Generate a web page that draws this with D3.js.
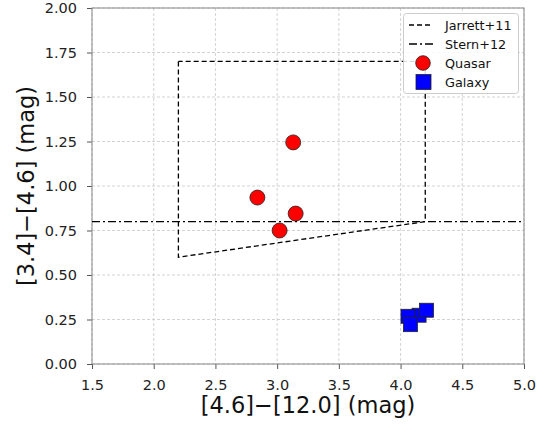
<!DOCTYPE html>
<html><head><meta charset="utf-8">
<script src="https://cdn.jsdelivr.net/npm/d3@7"></script>
<style>body{margin:0;background:#fff;} text{font-family:"DejaVu Sans",sans-serif;}</style>
</head><body><svg id="c" width="552" height="425"></svg>
<script>
const xTicks = [1.5, 2.0, 2.5, 3.0, 3.5, 4.0, 4.5, 5.0];
const yTicks = [0, 0.25, 0.5, 0.75, 1.0, 1.25, 1.5, 1.75, 2.0];
const quasarX = [3.13, 2.84, 3.15, 3.02];
const quasarY = [1.245, 0.935, 0.845, 0.75];
const galaxyX = [4.15, 4.21, 4.06, 4.08];
const galaxyY = [0.274, 0.302, 0.268, 0.221];
const jarrettX = [2.2, 2.2, 4.2, 4.2, 2.2];
const jarrettY = [1.7, 0.6, 0.8, 1.7, 1.7];
const sternY = 0.8;
const legendLabels = ["Jarrett+11", "Stern+12", "Quasar", "Galaxy"];

const svg = d3.select("#c");
const L = 92, R = 524, T = 8, B = 364;
const x = d3.scaleLinear().domain([1.5, 5.0]).range([L, R]);
const y = d3.scaleLinear().domain([0, 2]).range([B, T]);

// grid
const g = svg.append("g");
g.selectAll(".gx").data(xTicks).join("line").attr("x1", d => x(d)).attr("x2", d => x(d))
  .attr("y1", T).attr("y2", B).attr("stroke", "#c8c8c8").attr("stroke-width", 0.8).attr("stroke-dasharray", "3,2");
g.selectAll(".gy").data(yTicks).join("line").attr("y1", d => y(d)).attr("y2", d => y(d))
  .attr("x1", L).attr("x2", R).attr("stroke", "#c8c8c8").attr("stroke-width", 0.8).attr("stroke-dasharray", "3,2");

// axes
const xAxis = svg.append("g").attr("transform", `translate(0,${B})`)
  .call(d3.axisBottom(x).tickValues(xTicks).tickFormat(d3.format(".1f")).tickSizeOuter(0).tickSize(5).tickPadding(10.5));
const yAxis = svg.append("g").attr("transform", `translate(${L},0)`)
  .call(d3.axisLeft(y).tickValues(yTicks).tickFormat(d3.format(".2f")).tickSizeOuter(0).tickSize(5).tickPadding(10));
[xAxis, yAxis].forEach(a => {
  a.select(".domain").remove();
  a.selectAll("line").attr("stroke", "#555");
  a.selectAll("text").attr("font-size", 14.5).attr("fill", "#222").style("font-family", "DejaVu Sans");
});
// frame
svg.append("rect").attr("x", L).attr("y", T).attr("width", R - L).attr("height", B - T)
  .attr("fill", "none").attr("stroke", "#888").attr("stroke-width", 1);

// Jarrett
const line = d3.line().x(d => x(d[0])).y(d => y(d[1]));
svg.append("path").datum(jarrettX.map((v, i) => [v, jarrettY[i]])).attr("d", line)
  .attr("fill", "none").attr("stroke", "#000").attr("stroke-width", 1.3).attr("stroke-dasharray", "5,3");
// Stern
svg.append("line").attr("x1", x(1.5)).attr("x2", x(5.0)).attr("y1", y(sternY)).attr("y2", y(sternY))
  .attr("stroke", "#000").attr("stroke-width", 1.3).attr("stroke-dasharray", "8,3,2,3");

// quasars
svg.selectAll(".q").data(quasarX).join("circle").attr("cx", d => x(d)).attr("cy", (d, i) => y(quasarY[i]))
  .attr("r", 7.5).attr("fill", "#ff0000").attr("stroke", "#222").attr("stroke-width", 0.8);
// galaxies
const s = 14;
svg.selectAll(".gal").data(galaxyX).join("rect").attr("x", d => x(d) - s / 2).attr("y", (d, i) => y(galaxyY[i]) - s / 2)
  .attr("width", s).attr("height", s).attr("fill", "#0000ff").attr("stroke", "#222").attr("stroke-width", 0.8);

// axis labels
svg.append("text").attr("x", (L + R) / 2).attr("y", 413).attr("text-anchor", "middle").attr("font-size", 22.5).attr("fill", "#111")
  .text("[4.6]\u2212[12.0] (mag)");
svg.append("text").attr("transform", `translate(33.5,${(T + B) / 2}) rotate(-90)`).attr("text-anchor", "middle").attr("font-size", 22.5).attr("fill", "#111")
  .text("[3.4]\u2212[4.6] (mag)");

// legend
const lg = svg.append("g");
lg.append("rect").attr("x", 403.5).attr("y", 13.5).attr("width", 115).attr("height", 80).attr("rx", 3)
  .attr("fill", "#fff").attr("fill-opacity", 0.85).attr("stroke", "#ccc");
const ly = [25, 44, 63, 82];
lg.append("line").attr("x1", 409).attr("x2", 433).attr("y1", ly[0]).attr("y2", ly[0]).attr("stroke", "#000").attr("stroke-width", 1.3).attr("stroke-dasharray", "5,3");
lg.append("line").attr("x1", 409).attr("x2", 433).attr("y1", ly[1]).attr("y2", ly[1]).attr("stroke", "#000").attr("stroke-width", 1.3).attr("stroke-dasharray", "8,3,2,3");
lg.append("circle").attr("cx", 423).attr("cy", ly[2]).attr("r", 7.3).attr("fill", "#ff0000").attr("stroke", "#222").attr("stroke-width", 0.8);
lg.append("rect").attr("x", 423.5 - 7.5).attr("y", ly[3] - 7.5).attr("width", 15).attr("height", 15).attr("fill", "#0000ff").attr("stroke", "#222").attr("stroke-width", 0.8);
lg.selectAll(".lt").data(legendLabels).join("text").attr("x", 445).attr("y", (d, i) => ly[i] + 4.5).attr("font-size", 12.8).attr("fill", "#111").text(d => d);
</script></body></html>
